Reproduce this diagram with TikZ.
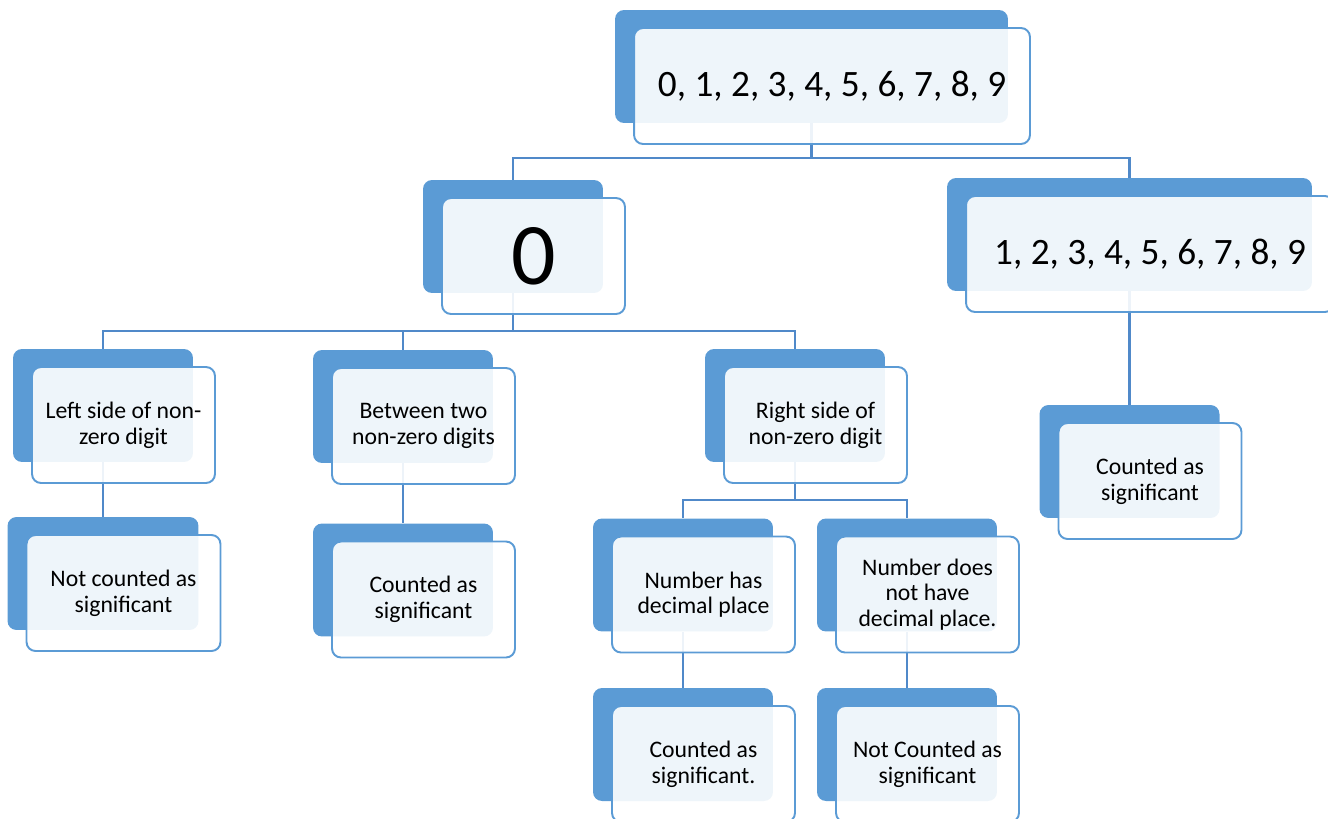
\documentclass[tikz,border=0pt]{standalone}
\usepackage{fontspec}
\setmainfont{Carlito}
\usetikzlibrary{backgrounds,calc}
\definecolor{cardblue}{HTML}{5B9BD5}
\definecolor{linkblue}{HTML}{5089C9}

\begin{document}
\begin{tikzpicture}[x=0.02cm, y=-0.02cm,
  back/.style={fill=cardblue, rounded corners=0.18cm, minimum width=3.6cm, minimum height=2.26cm, inner sep=0pt},
  front/.style={draw=cardblue, line width=1.1pt, fill=white, fill opacity=0.9, text opacity=1,
    rounded corners=0.18cm, minimum width=3.66cm, minimum height=2.32cm, inner sep=0pt,
    align=center, font=\fontsize{13.5}{14.6}\selectfont},
  big/.style={font=\fontsize{21.2}{24}\selectfont},
  link/.style={draw=linkblue, line width=1.3pt}]

\useasboundingbox (0,0) rectangle (1328,818);

\node[back, minimum width=7.86cm] (top) at (811.5,66.5) {};
\node[front, big, minimum width=7.92cm] (topF) at ($(top)+(20.5,19.5)$) {0, 1, 2, 3, 4, 5, 6, 7, 8, 9};

\node[back] (zero) at (513,236.5) {};
\node[front, font=\fontsize{50}{50}\selectfont] (zeroF) at ($(zero)+(20.5,19.5)$) {0};

\node[back, minimum width=7.3cm] (nonzero) at (1129.5,234.5) {};
\node[front, big, minimum width=7.36cm] (nonzeroF) at ($(nonzero)+(20.5,19.5)$) {1, 2, 3, 4, 5, 6, 7, 8, 9};

\node[back] (left) at (103,405.5) {};
\node[front] (leftF) at ($(left)+(20.5,19.5)$) {Left side of non-\\zero digit};

\node[back] (between) at (403,406.5) {};
\node[front] (betweenF) at ($(between)+(20.5,19.5)$) {Between two\\non-zero digits};

\node[back] (rightside) at (795,405.5) {};
\node[front] (rightsideF) at ($(rightside)+(20.5,19.5)$) {Right side of\\non-zero digit};

\node[back] (sigR) at (1129.5,461.5) {};
\node[front] (sigRF) at ($(sigR)+(20.5,19.5)$) {Counted as\\significant};

\node[back, minimum width=3.82cm] (notsig) at (103,573.5) {};
\node[front, minimum width=3.88cm] (notsigF) at ($(notsig)+(20.5,19.5)$) {Not counted as\\significant};

\node[back] (sigM) at (403,580) {};
\node[front] (sigMF) at ($(sigM)+(20.5,19.5)$) {Counted as\\significant};

\node[back] (hasdec) at (683,575) {};
\node[front] (hasdecF) at ($(hasdec)+(20.5,19.5)$) {Number has\\decimal place};

\node[back] (nodec) at (907,575) {};
\node[front] (nodecF) at ($(nodec)+(20.5,19.5)$) {Number does\\not have\\decimal place.};

\node[back] (sigD) at (683,744.5) {};
\node[front] (sigDF) at ($(sigD)+(20.5,19.5)$) {Counted as\\significant.};

\node[back] (notsigD) at (907,744.5) {};
\node[front] (notsigDF) at ($(notsigD)+(20.5,19.5)$) {Not Counted as\\significant};

\begin{scope}[on background layer]
\draw[link] (top.south) -- ++(0,35) coordinate (topBus) -| (zero.north);
\draw[link] (topBus) -| (nonzero.north);
\draw[link] (zero.south) -- ++(0,38) coordinate (zeroBus) -| (left.north);
\draw[link] (zeroBus) -| (between.north);
\draw[link] (zeroBus) -| (rightside.north);
\draw[link] (rightside.south) -- ++(0,38) coordinate (rsBus) -| (hasdec.north);
\draw[link] (rsBus) -| (nodec.north);
\draw[link] (left.south) -- (notsig.north);
\draw[link] (between.south) -- (sigM.north);
\draw[link] (hasdec.south) -- (sigD.north);
\draw[link] (nodec.south) -- (notsigD.north);
\draw[link] (nonzero.south) -- (sigR.north);
\end{scope}
\end{tikzpicture}
\end{document}
